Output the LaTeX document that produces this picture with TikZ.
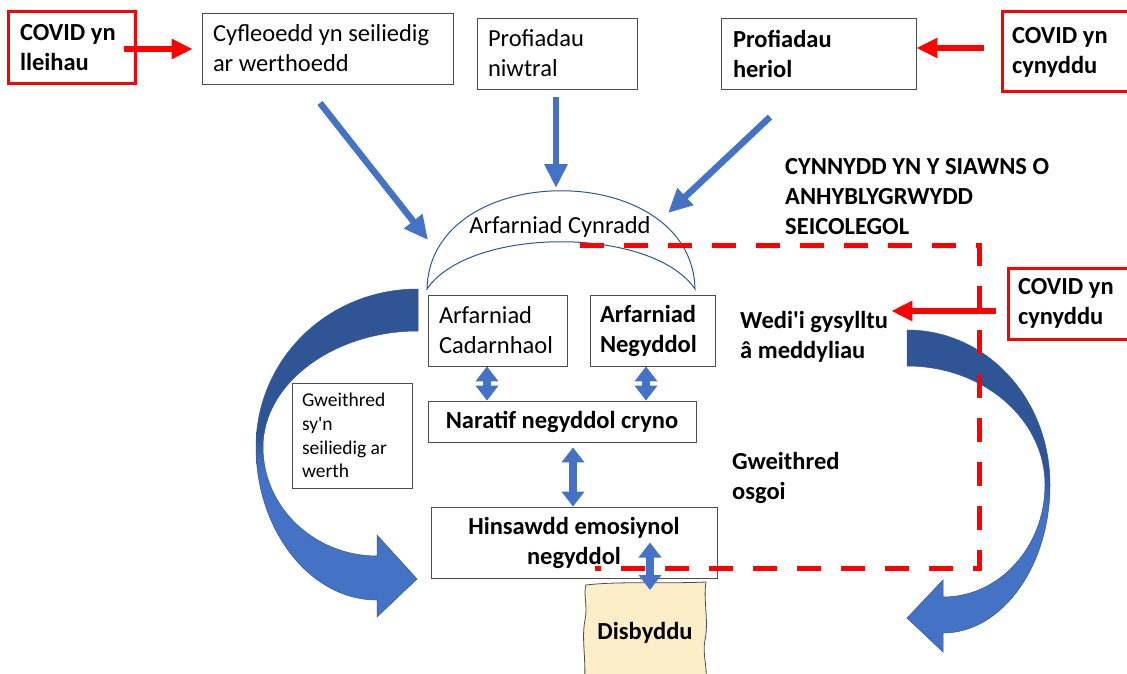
\documentclass[tikz,border=0pt]{standalone}
\usepackage{fontspec}
\setmainfont{Carlito}[Ligatures=TeXOff]
\usetikzlibrary{arrows.meta,calc}
\hyphenpenalty=10000
\exhyphenpenalty=10000
\definecolor{dkblue}{HTML}{2F5597}
\definecolor{ltblue}{HTML}{4472C4}
\definecolor{paper}{HTML}{FBEEC9}
\definecolor{covred}{HTML}{FF0000}
\newcommand\fsz{\fontsize{24.5}{30}\selectfont}
\newcommand\fsm{\fontsize{19.5}{23.8}\selectfont}
% band colour of the curved arrows: dark above, lighter below
\pgfdeclareverticalshading{bandshade}{100bp}{color(0bp)=(ltblue); color(25bp)=(ltblue); color(47bp)=(ltblue); color(53bp)=(dkblue); color(75bp)=(dkblue); color(100bp)=(dkblue)}
\tikzset{
  box/.style={draw=black!70, line width=0.8pt, inner ysep=0pt, align=flush left, font=\fsz},
  redbox/.style={draw=covred, line width=3pt, inner ysep=0pt, align=flush left, font=\fsz\bfseries},
  cbox/.style={draw=black!70, line width=0.8pt, inner sep=0pt, align=center, font=\fsz\bfseries},
  txt/.style={inner sep=0pt, align=left, anchor=west, font=\fsz\bfseries},
  redarr/.style={draw=covred, line width=6pt, -{Triangle[width=19pt,length=21pt]}},
  barr/.style={draw=ltblue, line width=6.5pt, -{Triangle[width=22pt,length=24pt]}},
  dbl/.style={draw=ltblue, line width=8pt, {Triangle[width=22pt,length=15pt]}-{Triangle[width=22pt,length=15pt]}},
  arcline/.style={draw=dkblue, line width=1pt},
  band/.style={shading=bandshade, draw=dkblue, line width=0.5pt}
}
\begin{document}
\begin{tikzpicture}[x=1pt,y=-1pt]
\useasboundingbox (0,0) rectangle (1127,674);
\clip (0,0) rectangle (1127,674);
\fill[white] (0,0) rectangle (1127,674);

% top row
\node[redbox, inner xsep=12pt, text width=103pt, minimum width=127pt, minimum height=72pt] (covL) at (71.5,48) {COVID yn\\lleihau};
\node[box, inner xsep=11pt, text width=229pt, minimum width=251pt, minimum height=71pt] (cyf) at (327.5,48.5) {Cyfleoedd yn seiliedig\\ar werthoedd};
\node[box, inner xsep=11pt, text width=138pt, minimum width=160pt, minimum height=71pt] (niw) at (557,53.5) {Profiadau\\niwtral};
\node[box, font=\fsz\bfseries, inner xsep=12pt, text width=171pt, minimum width=195pt, minimum height=71pt] (her) at (818.5,53.5) {Profiadau\\heriol};
\node[redbox, inner xsep=10pt, text width=118pt, minimum width=138pt, minimum height=80pt] (covR) at (1071,52) {COVID yn\\cynyddu};

% primary appraisal lens
\draw[arcline] (427,289) .. controls (430,158) and (692,158) .. (695,289)
  .. controls (652,226) and (470,226) .. cycle;
\node[font=\fsz, inner sep=0pt] (prim) at (560,227) {Arfarniad Cynradd};

% arrows into the lens
\coordinate (a1s) at (320,103); \coordinate (a1e) at (428,240);
\coordinate (a2s) at (556,97);  \coordinate (a2e) at (556,188);
\coordinate (a3s) at (770,117); \coordinate (a3e) at (668,213);
\draw[barr] (a1s) -- (a1e);
\draw[barr] (a2s) -- (a2e);
\draw[barr] (a3s) -- (a3e);

% red inputs
\draw[redarr] ([xshift=-13pt]covL.east |- 0,49) -- ([xshift=-9pt]cyf.west |- 0,49);
\draw[redarr] ([xshift=-17pt]covR.west |- 0,48) -- (her.east |- 0,48);

% curved arrows
\shadedraw[band] (418,289) .. controls (327,289) and (256,360) .. (256,447)
  .. controls (256,530) and (310,600) .. (377,600)
  -- (377,617) -- (417,579) -- (377,535) -- (377,556)
  .. controls (315,556) and (263,508) .. (263,447)
  .. controls (263,384) and (333,331) .. (418,331) -- cycle;
\shadedraw[band] (907,330) .. controls (986,330) and (1050,398) .. (1050,485)
  .. controls (1050,566) and (1002,633) .. (943,633)
  -- (943,652) -- (907,618) -- (943,580) -- (943,597)
  .. controls (1000,597) and (1045,546) .. (1045,485)
  .. controls (1045,419) and (983,366) .. (907,366) -- cycle;

% appraisal boxes
\node[box, inner xsep=11pt, text width=117pt, minimum width=139pt, minimum height=71pt] (cad) at (497.5,330.5) {Arfarniad\\Cadarnhaol};
\node[box, font=\fsz\bfseries, inner xsep=10pt, text width=105pt, minimum width=125pt, minimum height=71pt] (neg) at (652.5,330.5) {Arfarniad\\Negyddol};
\node[cbox, minimum width=268pt, minimum height=41pt] (nar) at (562,421.5) {Naratif negyddol cryno};
\node[box, font=\fsm, inner xsep=10pt, text width=100pt, minimum width=120pt, minimum height=105pt] (gwe) at (352,435.5) {Gweithred\\sy'n\\seiliedig ar\\werth};
\node[cbox, minimum width=286pt, minimum height=71pt] (hin) at (574,542.5) {Hinsawdd emosiynol\\negyddol};

% depletion sheet
\filldraw[fill=paper, draw=black!70, line width=0.8pt]
  (586,585) .. controls (620,581) and (660,584) .. (706,582)
  .. controls (703,600) and (709,620) .. (705,640)
  .. controls (702,655) and (708,665) .. (706,690)
  -- (584,690)
  .. controls (587,660) and (581,640) .. (585,620)
  .. controls (588,605) and (583,595) .. cycle;
\node[font=\fsz\bfseries, inner sep=0pt] (dis) at (645,633) {Disbyddu};

% free labels
\node[txt] (cynn) at (785,197) {CYNNYDD YN Y SIAWNS O\\ANHYBLYGRWYDD\\SEICOLEGOL};
\node[txt] (wed) at (740,336.5) {Wedi'i gysylltu\\â meddyliau};
\node[txt] (osg) at (732,477.5) {Gweithred\\osgoi};
\node[redbox, inner xsep=10pt, text width=112pt, minimum width=132pt, minimum height=71pt] (covM) at (1074,303.5) {COVID yn\\cynyddu};

% psychological inflexibility boundary
\draw[covred, line width=5pt, dash pattern=on 24pt off 20pt] (580,245) -- (979,245) -- (979,568) -- (595,568);

\draw[redarr] ([xshift=-11pt]covM.west |- 0,311) -- ([xshift=3pt]wed.east |- 0,311);

% links between appraisals
\draw[dbl] ([xshift=-10.5pt]cad.south) -- ([xshift=-10.5pt]cad.south |- nar.north);
\draw[dbl] ([xshift=-6.5pt]neg.south) -- ([xshift=-6.5pt]neg.south |- nar.north);
\draw[dbl] ([xshift=11pt,yshift=-5pt]nar.south) -- ([xshift=11pt]nar.south |- hin.north);
\coordinate (disTop) at (650,590);
\draw[dbl] ([xshift=76pt]hin.center) -- (disTop);
\end{tikzpicture}
\end{document}
